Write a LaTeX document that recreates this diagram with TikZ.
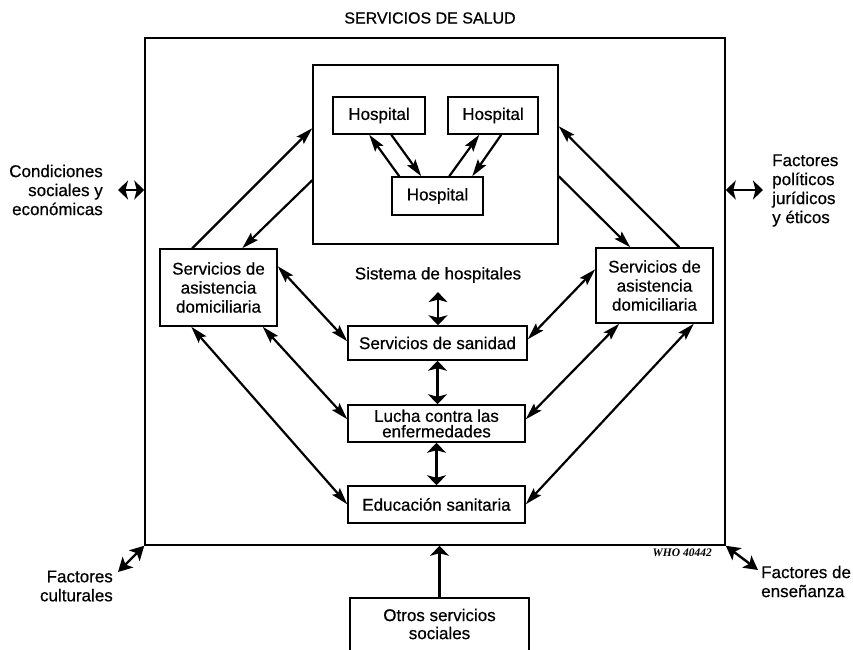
\documentclass[tikz,border=0pt]{standalone}
\usepackage{fontspec}
\setmainfont{Liberation Sans}
\newfontfamily\labelfont{Liberation Sans}[FakeBold=0.6]
\newfontfamily\whofont{Liberation Serif}
\usetikzlibrary{arrows.meta,calc}

\begin{document}
\begin{tikzpicture}[x=1pt,y=-1pt,
  txt/.style={font=\labelfont\fontsize{17}{19}\selectfont, inner sep=0pt, align=center},
  box/.style={draw, line width=1.5pt, inner sep=0pt,
              font=\labelfont\fontsize{17}{19}\selectfont, align=center},
  thin tip/.tip={Stealth[length=17pt,width=10pt,inset=3pt]},
  flat tip/.tip={Stealth[length=10pt,width=19pt,inset=2.5pt]},
  big tip/.tip={Stealth[length=14pt,width=15pt,inset=3.5pt]},
  diag/.style={line width=2.2pt, -thin tip},
  ddiag/.style={line width=2.2pt, thin tip-thin tip},
  dvert/.style={line width=2.4pt, flat tip-flat tip},
  uvert/.style={line width=2.4pt, -flat tip},
  dcorner/.style={line width=2.4pt, big tip-big tip},
]
\useasboundingbox (0,0) rectangle (853,649);
\clip (0,0) rectangle (853,649);

% title and main frame
\node[txt, font=\labelfont\fontsize{16}{19}\selectfont] (title) at (430,18) {SERVICIOS DE SALUD};
\node[box, minimum width=580pt, minimum height=507pt] (outer) at (435,291.5) {};

% hospital system
\node[box, minimum width=245pt, minimum height=179pt] (hsys) at (435.5,154.5) {};
\node[box, minimum width=92pt, minimum height=37pt] (h1) at (379,115.5) {Hospital};
\node[box, minimum width=90pt, minimum height=37pt] (h2) at (493,115.5) {Hospital};
\node[box, minimum width=91pt, minimum height=38pt] (h3) at (437.5,196) {Hospital};

\draw[diag] ([xshift=8pt]h3.north west) -- ([xshift=37pt]h1.south west);
\draw[diag] ([xshift=59pt]h1.south west) -- ([xshift=30pt]h3.north west);
\draw[diag] ([xshift=58pt]h3.north west) -- ([xshift=32pt]h2.south west);
\draw[diag] ([xshift=54pt]h2.south west) -- ([xshift=81pt]h3.north west);

% home care services
\node[box, minimum width=117pt, minimum height=77pt] (dl) at (218.5,287.5)
  {Servicios de\\asistencia\\domiciliaria};
\node[box, minimum width=117pt, minimum height=75pt] (dr) at (654.5,285.5)
  {Servicios de\\asistencia\\domiciliaria};

% central services
\node[txt] (sist) at (438,275) {Sistema de hospitales};
\node[box, minimum width=179pt, minimum height=34pt] (san) at (437.5,343) {Servicios de sanidad};
\node[box, minimum width=177pt, minimum height=37pt,
      font=\labelfont\fontsize{17}{15.5}\selectfont] (lucha) at (436.5,423.5)
  {Lucha contra las\\enfermedades};
\node[box, minimum width=177pt, minimum height=37pt] (edu) at (436.5,504.5) {Educación sanitaria};

\draw[dvert] ([yshift=-9pt]sist.south) -- (sist.south |- san.north);
\draw[dvert] (san.south) -- (san.south |- lucha.north);
\draw[dvert] (lucha.south) -- (edu.north);

% links between home care and hospital system
\draw[diag] ([xshift=33pt]dl.north west) -- ([yshift=-64pt]hsys.north west);
\draw[diag] ([yshift=-116pt]hsys.north west) -- ([xshift=83pt]dl.north west);
\draw[diag] ([xshift=84pt]dr.north west) -- ([yshift=-62pt]hsys.north east);
\draw[diag] ([yshift=-112pt]hsys.north east) -- ([xshift=35pt]dr.north west);

% links between home care and central services
\draw[ddiag] ([yshift=-18pt]dl.north east) -- ([yshift=-16pt]san.north west);
\draw[ddiag] ([yshift=-14pt]san.north east) -- ([yshift=-22pt]dr.north west);
\draw[ddiag] ([xshift=-15pt]dl.south east) -- ([yshift=-15pt]lucha.north west);
\draw[ddiag] ([xshift=32pt]dl.south west) -- ([yshift=-19pt]edu.north west);
\draw[ddiag] ([xshift=24pt]dr.south west) -- ([yshift=-15pt]lucha.north east);
\draw[ddiag] ([xshift=-20pt]dr.south east) -- ([yshift=-19pt]edu.north east);

% other social services
\node[box, minimum width=179pt, minimum height=70pt, anchor=north] (otros) at (439.5,597) {};
\node[txt, font=\labelfont\fontsize{17}{18}\selectfont] (otxt) at (439.5,624) {Otros servicios\\sociales};
\draw[uvert] (otros.north) -- (otros.north |- outer.south);

% external factors
\coordinate (cl) at (118,190);
\coordinate (cr) at (763,190);
\coordinate (bl) at (118,572);
\coordinate (br) at (758,570);
\draw[dvert] (cl) -- (cl -| outer.west);
\draw[dvert] (cr -| outer.east) -- (cr);
\draw[dcorner] (outer.south west) -- (bl);
\draw[dcorner] (outer.south east) -- (br);

\node[txt, align=right, anchor=east] (fcond) at (103,190)
  {Condiciones\\sociales y\\económicas};
\node[txt, align=left, anchor=west] (fpol) at (772,190.5)
  {Factores\\políticos\\jurídicos\\y éticos};
\node[txt, align=right, anchor=east] (fcult) at (113,586)
  {Factores\\culturales};
\node[txt, align=left, anchor=west] (fens) at (761,581.5)
  {Factores de\\enseñanza};

\node[inner sep=0pt, anchor=east, font=\whofont\bfseries\itshape\fontsize{11.5}{13}\selectfont]
  (who) at (712,553) {WHO 40442};
\end{tikzpicture}
\end{document}
